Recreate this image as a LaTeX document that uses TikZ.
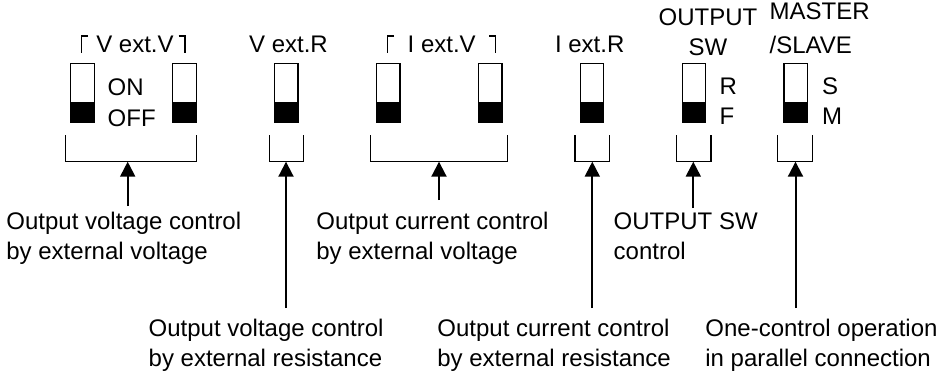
\documentclass[tikz,border=0pt]{standalone}
\usepackage{fontspec}
\setmainfont{Liberation Sans}
\usetikzlibrary{arrows.meta, calc}
\tikzset{
  switchbox/.style={rectangle, draw=black, line width=0.65pt, minimum width=11.75pt, minimum height=29.75pt, inner sep=0pt,
    path picture={\fill[black] (path picture bounding box.south west) rectangle ([yshift=10.5pt]path picture bounding box.south east);}},
  lbl/.style={inner sep=0pt, font=\fontsize{12}{15}\selectfont},
  descr/.style={lbl, align=left, anchor=base west},
  bracketline/.style={line width=0.65pt},
  cornerline/.style={line width=0.65pt},
  arrow/.style={-{Triangle[width=7.5pt,length=7.5pt]}, line width=1pt}
}
\begin{document}
\begin{tikzpicture}[x=0.5pt, y=-0.5pt]
  \useasboundingbox (0,0) rectangle (949,380);

  % Switches
  \foreach \k in {1,...,8} {
    \node[switchbox] (sw\k) at ({82.5+101.9*(\k-1)},93) {};
  }

  % Switch names
  \node[lbl, anchor=base] (vvName) at (135,53) {V ext.V};
  \draw[cornerline] (88,36) -| (81.5,53);
  \draw[cornerline] (178.5,36) -| (185,53);
  \node[lbl, anchor=base] (vrName) at (288.5,53) {V ext.R};
  \node[lbl, anchor=base] (ivName) at (441.7,53) {I ext.V};
  \draw[cornerline] (394.2,36) -| (387.7,53);
  \draw[cornerline] (489.2,36) -| (495.7,53);
  \node[lbl, anchor=base] (irName) at (589.7,53) {I ext.R};
  \node[lbl, anchor=base, align=center] (swName) at (708,55.5) {OUTPUT\\SW};
  \node[lbl, anchor=base west, align=left] (msName) at (769.3,53.5) {MASTER\\[2pt]/SLAVE};

  % Positions
  \node[lbl, anchor=base west] (onLbl) at (107.3,95) {ON};
  \node[lbl, anchor=base west] (offLbl) at (107.3,126.5) {OFF};
  \node[lbl, anchor=base west] (rLbl) at (719.3,94) {R};
  \node[lbl, anchor=base west] (fLbl) at (719.3,124.5) {F};
  \node[lbl, anchor=base west] (sLbl) at (821.7,94) {S};
  \node[lbl, anchor=base west] (mLbl) at (821.7,124.5) {M};

  % Brackets under the switches
  \foreach \l/\r/\t/\n in {65.7/196.7/127.7/vv, 269.3/303.3/286/vr, 370.7/507.3/439/iv,
                           575/609.3/592.3/ir, 676.7/711/693.3/sw, 777.7/812.3/795.5/ms} {
    \draw[bracketline] (\l,135) |- (\r,161.7) -- (\r,135);
    \coordinate (\n Tip) at (\t,161.7);
  }

  % Descriptions
  \node[descr] (vvDesc) at (6,259) {Output voltage control\\by external voltage};
  \node[descr] (vrDesc) at (148.3,366) {Output voltage control\\by external resistance};
  \node[descr] (ivDesc) at (316,259) {Output current control\\by external voltage};
  \node[descr] (irDesc) at (437,366) {Output current control\\by external resistance};
  \node[descr] (swDesc) at (613.3,259) {OUTPUT SW\\control};
  \node[descr] (msDesc) at (705,366) {One-control operation\\in parallel connection};

  % Arrows
  \draw[arrow, shorten <=2.5pt] (vvTip |- vvDesc.north) -- (vvTip);
  \draw[arrow, shorten <=5pt] (vrTip |- vrDesc.north) -- (vrTip);
  \draw[arrow, shorten <=5.5pt] (ivTip |- ivDesc.north) -- (ivTip);
  \draw[arrow, shorten <=5pt] (irTip |- irDesc.north) -- (irTip);
  \draw[arrow, shorten <=1.8pt] (swTip |- swDesc.north) -- (swTip);
  \draw[arrow, shorten <=5pt] (msTip |- msDesc.north) -- (msTip);
\end{tikzpicture}
\end{document}
